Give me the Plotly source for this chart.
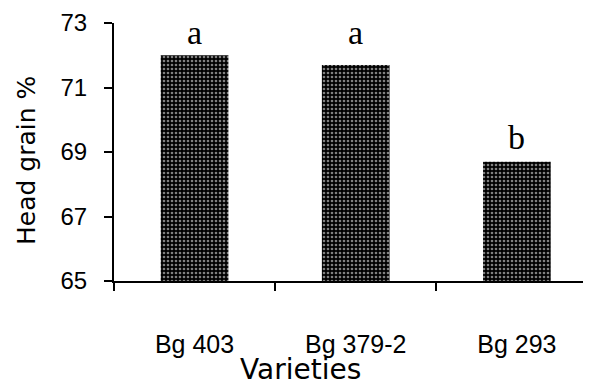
import plotly.graph_objects as go

varieties = ["Bg 403", "Bg 379-2", "Bg 293"]
head_grain = [72.0, 71.7, 68.7]
letters = ["a", "a", "b"]
letter_y = [72.72, 72.72, 69.45]
y_ticks = [65, 67, 69, 71, 73]

# page body has an 8px margin; lay out in screen pixels minus 8
OFF = 8
W, H = 591 - OFF, 388 - OFF
L = 114 - OFF
T = 23 - OFF
R = 0
B = H - (281 - OFF)
PW, PH = W - L - R, H - T - B


def px(x):
    return (x - OFF - L) / PW


def py(y):
    return (H - B - (y - OFF)) / PH


fig = go.Figure()
fig.add_trace(go.Bar(
    x=varieties, y=head_grain, width=0.42,
    marker=dict(color="black", line=dict(width=0),
                pattern=dict(shape=".", fgcolor="white", bgcolor="black",
                             size=4, solidity=0.35)),
))

for cat, t, yy in zip(varieties, letters, letter_y):
    fig.add_annotation(x=cat, y=yy, text=t, showarrow=False, xref="x", yref="y",
                       yanchor="middle",
                       font=dict(family="Liberation Serif", size=34, color="black"))

fig.add_annotation(xref="paper", yref="paper", x=px(300), y=py(369), text="Varieties",
                   showarrow=False, xanchor="center", yanchor="middle",
                   font=dict(family="DejaVu Sans", size=28, color="black"))
fig.add_annotation(xref="paper", yref="paper", x=px(26), y=py(161), text="Head grain %",
                   textangle=-90, showarrow=False, xanchor="center", yanchor="middle",
                   font=dict(family="DejaVu Sans", size=25, color="black"))

fig.update_layout(
    width=W, height=H, margin=dict(l=L, r=R, t=T, b=B, autoexpand=False),
    paper_bgcolor="white", plot_bgcolor="white", showlegend=False,
    xaxis=dict(type="category", range=[-0.5, 2.46], showline=True, linecolor="black",
               linewidth=2, ticks="outside", ticklen=8, tickwidth=1.5, tickcolor="black",
               tickson="boundaries", showgrid=False, zeroline=False,
               ticklabelstandoff=40,
               tickfont=dict(family="Liberation Sans", size=25, color="black")),
    yaxis=dict(range=[65, 73], tickmode="array", tickvals=y_ticks,
               showline=True, linecolor="black", linewidth=2,
               ticks="outside", ticklen=8, tickwidth=1.5, tickcolor="black",
               showgrid=False, zeroline=False, ticklabelstandoff=12,
               tickfont=dict(family="Liberation Sans", size=24, color="black")),
)
fig.write_html("out.html")
